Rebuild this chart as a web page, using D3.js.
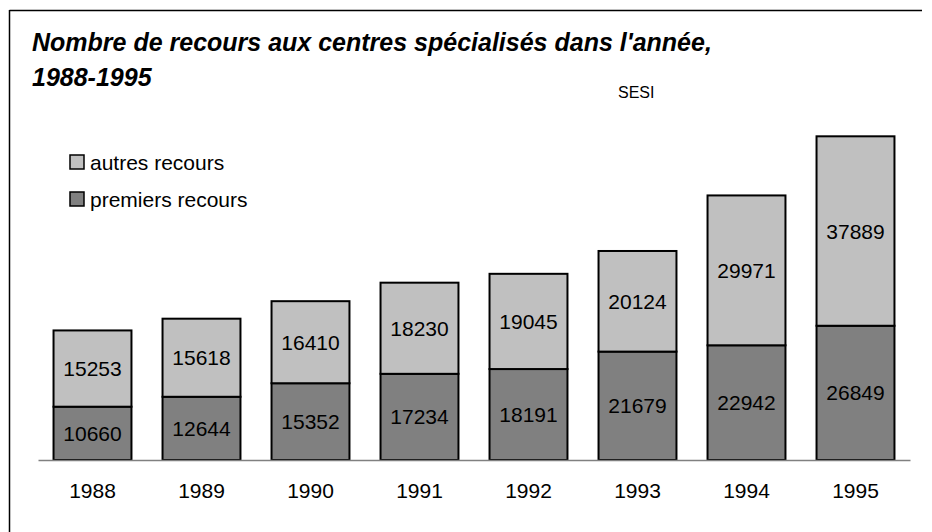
<!DOCTYPE html>
<html>
<head>
<meta charset="utf-8">
<script src="https://cdn.jsdelivr.net/npm/d3@7"></script>
<style>
  body { margin: 0; background: #fff; }
  text { font-family: "Liberation Sans", Arial, sans-serif; }
</style>
</head>
<body>
<div id="chart"></div>
<script>
var years = ["1988", "1989", "1990", "1991", "1992", "1993", "1994", "1995"];
var premiers = [10660, 12644, 15352, 17234, 18191, 21679, 22942, 26849];
var autres = [15253, 15618, 16410, 18230, 19045, 20124, 29971, 37889];

var width = 932, height = 532;
var baseY = 460;

var svg = d3.select("#chart")
  .append("svg")
  .attr("width", width)
  .attr("height", height);

// frame (left and top edges visible)
svg.append("line")
  .attr("x1", 9.5).attr("y1", 10.5).attr("x2", 922).attr("y2", 10.5)
  .attr("stroke", "#000").attr("stroke-width", 1.5);
svg.append("line")
  .attr("x1", 9.5).attr("y1", 10).attr("x2", 9.5).attr("y2", height)
  .attr("stroke", "#000").attr("stroke-width", 1.5);

var data = years.map(function(y, i) {
  return {year: y, premiers: premiers[i], autres: autres[i]};
});

var xScale = d3.scaleBand()
  .domain(years)
  .range([38, 910])
  .paddingInner(0.285)
  .paddingOuter(0.1425);

var yScale = d3.scaleLinear()
  .domain([0, 70000])
  .range([baseY, 110]);

var stack = d3.stack().keys(["premiers", "autres"]);
var layers = stack(data);
var colors = {premiers: "#808080", autres: "#c0c0c0"};

svg.selectAll("g.layer")
  .data(layers)
  .enter()
  .append("g")
  .attr("class", "layer")
  .each(function(layer) {
    var g = d3.select(this);
    g.selectAll("rect")
      .data(layer)
      .enter()
      .append("rect")
        .attr("x", function(d) { return xScale(d.data.year); })
        .attr("y", function(d) { return yScale(d[1]); })
        .attr("width", xScale.bandwidth())
        .attr("height", function(d) { return yScale(d[0]) - yScale(d[1]); })
        .attr("fill", colors[layer.key])
        .attr("stroke", "#000")
        .attr("stroke-width", 2);
    g.selectAll("text")
      .data(layer)
      .enter()
      .append("text")
        .attr("x", function(d) { return xScale(d.data.year) + xScale.bandwidth() / 2; })
        .attr("y", function(d) { return (yScale(d[0]) + yScale(d[1])) / 2; })
        .attr("dy", "0.36em")
        .attr("text-anchor", "middle")
        .attr("font-size", 21)
        .attr("fill", "#000")
        .text(function(d) { return d.data[layer.key]; });
  });

// baseline + year labels
var xAxis = svg.append("g")
  .attr("transform", `translate(0,${baseY})`)
  .call(d3.axisBottom(xScale).tickSize(0).tickPadding(23));
xAxis.select(".domain").attr("stroke", "#808080").attr("stroke-width", 1.5);
xAxis.selectAll("text")
  .attr("font-size", 21)
  .attr("font-family", "Liberation Sans, Arial, sans-serif")
  .attr("fill", "#000");

// title
var title = svg.append("text")
  .attr("x", 32)
  .attr("font-size", 25)
  .attr("font-weight", "bold")
  .attr("font-style", "italic");
title.append("tspan").attr("x", 32).attr("y", 51)
  .text("Nombre de recours aux centres spécialisés dans l'année,");
title.append("tspan").attr("x", 32).attr("y", 86).text("1988-1995");

svg.append("text")
  .attr("x", 618).attr("y", 98)
  .attr("font-size", 16)
  .text("SESI");

// legend
var legendItems = [
  {key: "autres", label: "autres recours", y: 162},
  {key: "premiers", label: "premiers recours", y: 199}
];
var legend = svg.selectAll("g.legend")
  .data(legendItems)
  .enter()
  .append("g")
  .attr("class", "legend")
  .attr("transform", function(d) { return `translate(70,${d.y})`; });
legend.append("rect")
  .attr("x", 0).attr("y", -7)
  .attr("width", 14).attr("height", 14)
  .attr("fill", function(d) { return colors[d.key]; })
  .attr("stroke", "#000").attr("stroke-width", 1.5);
legend.append("text")
  .attr("x", 20).attr("y", 0)
  .attr("dy", "0.36em")
  .attr("font-size", 21)
  .text(function(d) { return d.label; });
</script>
</body>
</html>
